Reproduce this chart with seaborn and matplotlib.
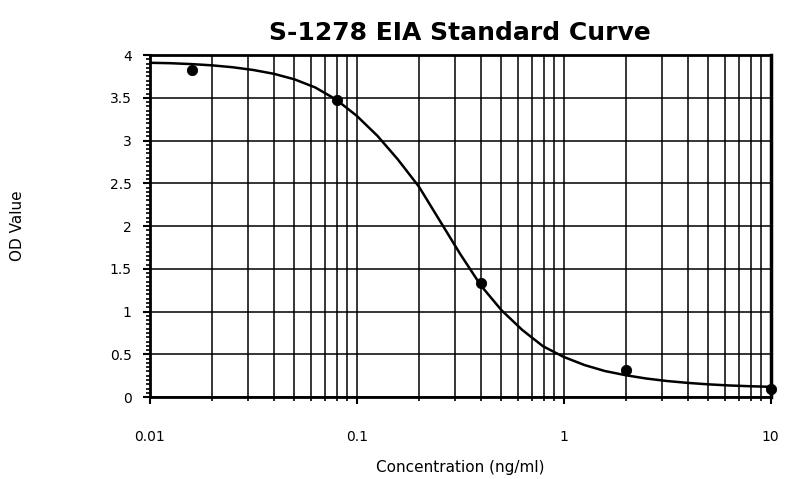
import numpy as np
import pandas as pd
import matplotlib.pyplot as plt
import matplotlib.ticker as mticker
import seaborn as sns

# standards (measured points)
conc = [0.016, 0.08, 0.4, 2.0, 10.0]
od = [3.83, 3.47, 1.33, 0.32, 0.10]

# fitted standard curve (tenth-decade steps)
curve_x = [0.01, 0.0126, 0.0158, 0.02, 0.0251, 0.0316, 0.0398, 0.0501,
           0.0631, 0.0794, 0.1, 0.126, 0.158, 0.2, 0.251, 0.316, 0.398,
           0.501, 0.631, 0.794, 1.0, 1.26, 1.58, 2.0, 2.51, 3.16, 3.98,
           5.01, 6.31, 7.94, 10.0]
curve_y = [3.910, 3.905, 3.895, 3.880, 3.858, 3.826, 3.781, 3.716,
           3.621, 3.481, 3.29, 3.055, 2.78, 2.46, 2.07, 1.675, 1.305,
           1.015, 0.785, 0.595, 0.47, 0.375, 0.305, 0.255, 0.217, 0.188,
           0.166, 0.149, 0.136, 0.127, 0.12]

xticks = [0.01, 0.1, 1, 10]
xtick_labels = ["0.01", "0.1", "1", "10"]
yticks = [0, 0.5, 1, 1.5, 2, 2.5, 3, 3.5, 4]
ytick_labels = ["0", "0.5", "1", "1.5", "2", "2.5", "3", "3.5", "4"]

pts = pd.DataFrame({"conc": conc, "od": od})
fit = pd.DataFrame({"conc": curve_x, "od": curve_y})

sns.set_style("white")
plt.rcParams["font.family"] = ["DejaVu Sans"]
plt.rcParams["text.color"] = "black"
plt.rcParams["axes.labelcolor"] = "black"

fig = plt.figure(figsize=(7.88, 4.79), dpi=100)
ax = fig.add_axes([0.190, 0.171, 0.788, 0.714])

sns.lineplot(data=fit, x="conc", y="od", color="black", lw=1.8, ax=ax)
sns.scatterplot(data=pts, x="conc", y="od", color="black", s=55,
                edgecolor="black", zorder=5, clip_on=False, ax=ax)

ax.set_xscale("log")
ax.set_xlim(0.01, 10)
ax.set_ylim(0, 4)

ax.set_xticks(xticks)
ax.set_xticklabels(xtick_labels)
ax.xaxis.set_minor_locator(mticker.LogLocator(base=10, subs=np.arange(2, 10)))
ax.xaxis.set_minor_formatter(mticker.NullFormatter())
ax.set_yticks(yticks)
ax.set_yticklabels(ytick_labels)
ax.yaxis.set_minor_locator(mticker.MultipleLocator(0.05))

ax.grid(True, which="major", axis="both", color="black", lw=1.1)
ax.grid(True, which="minor", axis="x", color="black", lw=1.1)
ax.set_axisbelow(True)

ax.tick_params(axis="both", which="major", direction="out", length=5, width=1.5,
               color="black", labelsize=10, labelcolor="black")
ax.tick_params(axis="x", which="major", pad=19)
ax.tick_params(axis="y", which="major", pad=8)
ax.tick_params(axis="both", which="minor", direction="out", length=3, width=1.2,
               color="black")
ax.tick_params(bottom=True, left=True, which="both")

for side in ["left", "bottom", "right", "top"]:
    ax.spines[side].set_visible(True)
    ax.spines[side].set_color("black")
    ax.spines[side].set_linewidth(2)
ax.spines["right"].set_linewidth(2.5)

ax.set_xlabel("Concentration (ng/ml)", fontsize=11, labelpad=11)
ax.set_ylabel("OD Value", fontsize=11, labelpad=61)
ax.set_title("S-1278 EIA Standard Curve", fontsize=18, fontweight="heavy",
             color="black", pad=11)

fig.savefig("out.png", dpi=100)
